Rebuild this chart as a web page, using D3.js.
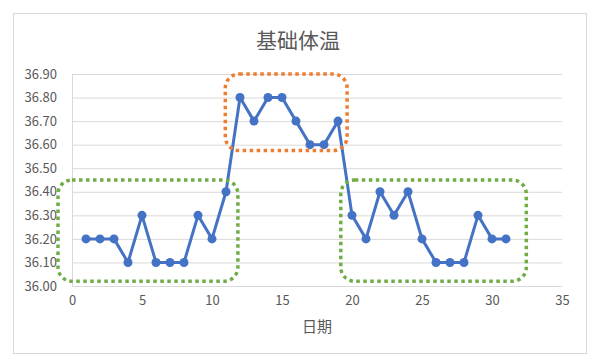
<!DOCTYPE html>
<html>
<head>
<meta charset="utf-8">
<script src="https://cdn.jsdelivr.net/npm/d3@7"></script>
<style>
  body { margin: 0; background: #fff; }
  text { font-family: "Noto Sans CJK SC", "Noto Sans", sans-serif; }
</style>
</head>
<body>
<div id="chart"></div>
<script>
// days and temperatures
var days = [1,2,3,4,5,6,7,8,9,10,11,12,13,14,15,16,17,18,19,20,21,22,23,24,25,26,27,28,29,30,31];
var temps = [36.2,36.2,36.2,36.1,36.3,36.1,36.1,36.1,36.3,36.2,36.4,
             36.8,36.7,36.8,36.8,36.7,36.6,36.6,36.7,
             36.3,36.2,36.4,36.3,36.4,36.2,36.1,36.1,36.1,36.3,36.2,36.2];
var xTicks = [0,5,10,15,20,25,30,35];
var yTicks = [36.0,36.1,36.2,36.3,36.4,36.5,36.6,36.7,36.8,36.9];
var title = "基础体温";
var xTitle = "日期";

// annotation boxes in data units: [x0, x1, y0, y1]
var boxNames = ["low1", "high", "low2"];
var boxExtents = [[-1.0, 11.85, 36.02, 36.45], [10.95, 19.65, 36.575, 36.9], [19.2, 32.45, 36.02, 36.45]];
var boxColors = ["#70ad47", "#ed7d31", "#70ad47"];

var width = 600, height = 364;
var margin = {top: 74, right: 38, bottom: 78, left: 72};

var svg = d3.select("#chart").append("svg")
    .attr("width", width)
    .attr("height", height);

// outer chart border
svg.append("rect")
   .attr("x", 13.5).attr("y", 13.5)
   .attr("width", 573).attr("height", 340)
   .attr("fill", "#fff")
   .attr("stroke", "#d9d9d9");

var x = d3.scaleLinear().domain([0, 35]).range([margin.left, 562]);
var y = d3.scaleLinear().domain([36.0, 36.9]).range([height - margin.bottom, margin.top]);

// horizontal gridlines
svg.append("g")
   .selectAll("line")
   .data(yTicks)
   .enter().append("line")
   .attr("x1", x(0)).attr("x2", x(35))
   .attr("y1", d => y(d) + 0.5).attr("y2", d => y(d) + 0.5)
   .attr("stroke", "#d9d9d9")
   .attr("stroke-width", 1);

// left axis line
svg.append("line")
   .attr("x1", x(0) + 0.5).attr("x2", x(0) + 0.5)
   .attr("y1", y(36.9)).attr("y2", y(36.0))
   .attr("stroke", "#d9d9d9");

// y axis
var yAxis = svg.append("g")
   .attr("transform", "translate(" + (x(0) - 8) + ",0)")
   .call(d3.axisLeft(y).tickValues(yTicks).tickFormat(d3.format(".2f")).tickSize(0).tickPadding(7));
yAxis.select(".domain").remove();
yAxis.selectAll("text").attr("fill", "#595959").style("font-size", "13px")
     .style("font-family", "'Noto Sans CJK SC', sans-serif");

// x axis
var xAxis = svg.append("g")
   .attr("transform", "translate(0," + y(36.0) + ")")
   .call(d3.axisBottom(x).tickValues(xTicks).tickSize(0).tickPadding(10));
xAxis.select(".domain").remove();
xAxis.selectAll("text").attr("fill", "#595959").style("font-size", "13px")
     .style("font-family", "'Noto Sans CJK SC', sans-serif");

// line
var line = d3.line()
    .x((d, i) => x(days[i]))
    .y(d => y(d));

svg.append("path")
   .datum(temps)
   .attr("fill", "none")
   .attr("stroke", "#4472c4")
   .attr("stroke-width", 3)
   .attr("stroke-linejoin", "round")
   .attr("d", line);

svg.append("g")
   .selectAll("circle")
   .data(temps)
   .enter().append("circle")
   .attr("cx", (d, i) => x(days[i]))
   .attr("cy", d => y(d))
   .attr("r", 4.5)
   .attr("fill", "#4472c4");

// dotted rounded boxes
svg.append("g")
   .selectAll("rect")
   .data(boxExtents)
   .enter().append("rect")
   .attr("x", d => x(d[0]))
   .attr("y", d => y(d[3]))
   .attr("width", d => x(d[1]) - x(d[0]))
   .attr("height", d => y(d[2]) - y(d[3]))
   .attr("rx", 14).attr("ry", 14)
   .attr("fill", "none")
   .attr("stroke", (d, i) => boxColors[i])
   .attr("stroke-width", 3.5)
   .attr("stroke-dasharray", "3.5,3.5");

// titles
svg.append("text")
   .attr("x", 298).attr("y", 48)
   .attr("text-anchor", "middle")
   .attr("fill", "#595959")
   .style("font-size", "21px")
   .text(title);

svg.append("text")
   .attr("x", (x(0) + x(35)) / 2).attr("y", 332)
   .attr("text-anchor", "middle")
   .attr("fill", "#595959")
   .style("font-size", "15px")
   .text(xTitle);
</script>
</body>
</html>
